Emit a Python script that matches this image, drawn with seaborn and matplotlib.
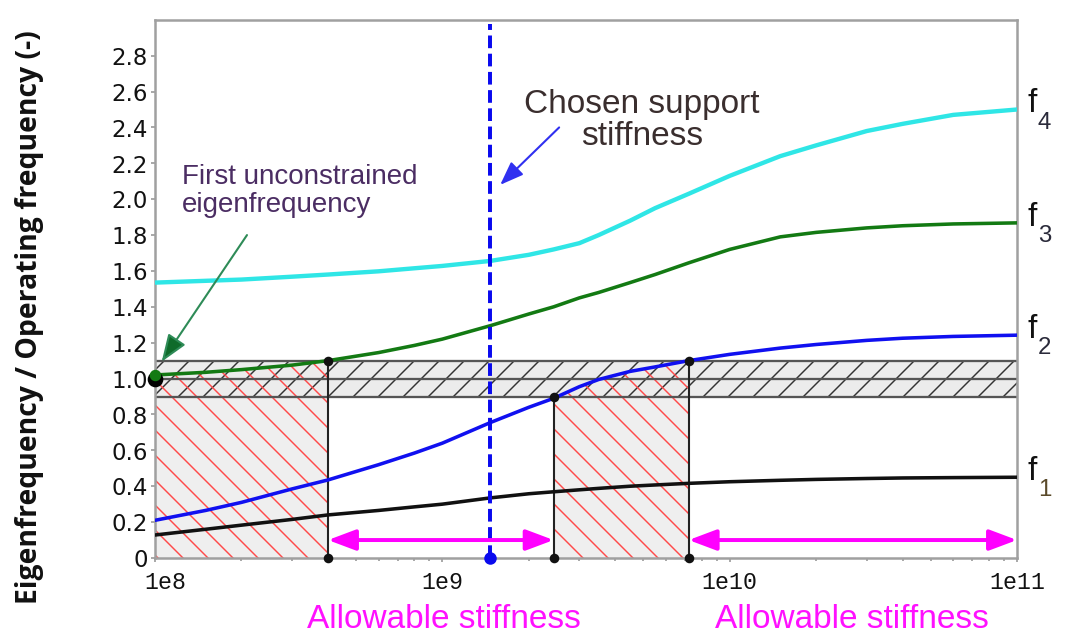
import numpy as np
import pandas as pd
import matplotlib
matplotlib.use("Agg")
import matplotlib.pyplot as plt
import matplotlib.transforms as mtransforms
from matplotlib.ticker import LogLocator, NullFormatter, FixedLocator
from matplotlib.patches import ArrowStyle
import seaborn as sns

# ---------------- data ----------------
stiffness = [1e8, 1.5e8, 2e8, 3e8, 4e8, 6e8, 8e8, 1e9, 1.47e9, 2e9, 2.44e9,
             3e9, 3.5e9, 4.5e9, 5.5e9, 7.2e9, 1e10, 1.5e10, 2e10, 3e10, 4e10,
             6e10, 1e11]
f1 = [0.128, 0.16, 0.183, 0.215, 0.24, 0.265, 0.285, 0.30, 0.335, 0.358, 0.369,
      0.38, 0.388, 0.40, 0.407, 0.416, 0.425, 0.433, 0.438, 0.443, 0.446,
      0.448, 0.45]
f2 = [0.21, 0.265, 0.31, 0.385, 0.435, 0.52, 0.585, 0.64, 0.755, 0.84, 0.89,
      0.955, 0.995, 1.04, 1.065, 1.10, 1.135, 1.17, 1.19, 1.213, 1.225,
      1.235, 1.242]
f3 = [1.02, 1.035, 1.05, 1.075, 1.10, 1.145, 1.185, 1.22, 1.295, 1.36, 1.40,
      1.45, 1.48, 1.535, 1.58, 1.645, 1.72, 1.79, 1.815, 1.84, 1.852,
      1.862, 1.868]
f4 = [1.535, 1.545, 1.552, 1.568, 1.58, 1.598, 1.615, 1.628, 1.656, 1.69, 1.72,
      1.755, 1.80, 1.88, 1.95, 2.03, 2.13, 2.24, 2.30, 2.38, 2.42,
      2.47, 2.50]
mode_names = ["f1", "f2", "f3", "f4"]
mode_labels = ["f", "f", "f", "f"]
mode_subscripts = ["1", "2", "3", "4"]

band_low, band_mid, band_high = 0.9, 1.0, 1.1
chosen_stiffness = 1.47e9
limit_stiffness = [4e8, 2.44e9, 7.2e9]
limit_tops = [1.1, 0.9, 1.1]
unconstrained_point = (1e8, 1.0)
arrow_level = 0.1

xticks = [1e8, 1e9, 1e10, 1e11]
xtick_labels = ["1e8", "1e9", "1e10", "1e11"]
yticks = [0, 0.2, 0.4, 0.6, 0.8, 1.0, 1.2, 1.4, 1.6, 1.8, 2.0, 2.2, 2.4, 2.6, 2.8]
ytick_labels = ["0", "0.2", "0.4", "0.6", "0.8", "1.0", "1.2", "1.4", "1.6",
                "1.8", "2.0", "2.2", "2.4", "2.6", "2.8"]

ylabel = "Eigenfrequency / Operating frequency (-)"
chosen_text = "Chosen support\nstiffness"
first_text = "First unconstrained\neigenfrequency"
allow_text = "Allowable stiffness"

# annotation arrows (tail, head) in data coordinates
green_arrow = ((2.09e8, 1.80), (1.055e8, 1.094))
blue_arrow = ((2.55e9, 2.40), (1.59e9, 2.08))

# ---------------- style ----------------
sns.set_theme(style="white")
plt.rcParams["font.family"] = ["Liberation Sans", "DejaVu Sans"]
plt.rcParams["hatch.linewidth"] = 0.7

DPI = 150
fig = plt.figure(figsize=(1065 / DPI, 635.2 / DPI), dpi=DPI)
ax = fig.add_axes([155 / 1065, 1 - 558 / 635, (1017 - 155) / 1065, (558 - 20) / 635])
ax.set_xscale("log")

x = np.array(stiffness)
df = pd.DataFrame({"stiffness": stiffness, "f1": f1, "f2": f2, "f3": f3, "f4": f4})

colors = {"f1": "#111111", "f2": "#1010f0", "f3": "#137a13", "f4": "#2fe6e6"}
widths = {"f1": 1.7, "f2": 1.7, "f3": 1.7, "f4": 2.1}

# forbidden (red hatched) regions
m1 = (x >= stiffness[0]) & (x <= limit_stiffness[0])
m2 = (x >= limit_stiffness[1]) & (x <= limit_stiffness[2])
top1 = np.array(f3)[m1]
top2 = np.minimum(np.array(f2)[m2], band_high)
ax.fill_between(x[m1], 0, top1, facecolor="#efefef", lw=0, zorder=1)
ax.fill_between(x[m2], 0, top2, facecolor="#efefef", lw=0, zorder=1)

# operating band
ax.axhspan(band_low, band_high, facecolor="#ececec", edgecolor="#333333",
           hatch="//", lw=0, zorder=1.5)

with plt.rc_context({"hatch.color": "#ff4a4a"}):
    ax.fill_between(x[m1], 0, top1, facecolor="none", edgecolor="#ff4a4a",
                    hatch="\\\\", lw=0, zorder=2)
    ax.fill_between(x[m2], 0, top2, facecolor="none", edgecolor="#ff4a4a",
                    hatch="\\\\", lw=0, zorder=2)

for lvl in (band_low, band_mid, band_high):
    ax.axhline(lvl, color="#555555", lw=1.1, zorder=2.5)

# limit vertical lines
ax.vlines(limit_stiffness, 0, limit_tops, color="#222222", lw=1.0, zorder=3)
ax.plot(limit_stiffness, limit_tops, "o", color="#111111", ms=3.6, zorder=6)
ax.plot(limit_stiffness, [0] * len(limit_stiffness), "o", color="#111111",
        ms=3.6, zorder=6, clip_on=False)

# curves
for name in mode_names:
    sns.lineplot(data=df, x="stiffness", y=name, color=colors[name],
                 lw=widths[name], ax=ax, legend=False, zorder=4)

# chosen stiffness
ax.axvline(chosen_stiffness, ymin=0, ymax=0.993, color="#0a0aee", lw=1.9,
           dashes=(3.2, 1.4), zorder=5)
ax.plot([chosen_stiffness], [0], "o", color="#0a0aee", ms=5, zorder=6,
        clip_on=False)

# unconstrained eigenfrequency dots
ax.plot([unconstrained_point[0]], [unconstrained_point[1]], "o", color="#000000",
        ms=6.5, zorder=7, clip_on=False)
ax.plot([stiffness[0]], [f3[0]], "o", color="#137a13", ms=4.5, zorder=7,
        clip_on=False)

# magenta allowable arrows
mag_style = ArrowStyle("<|-|>", head_length=0.8, head_width=0.3)
ax.annotate("", xy=(limit_stiffness[1], arrow_level),
            xytext=(limit_stiffness[0], arrow_level),
            arrowprops=dict(arrowstyle=mag_style, color="#ff00ff", lw=1.9,
                            mutation_scale=14, shrinkA=0, shrinkB=0),
            zorder=6)
ax.annotate("", xy=(stiffness[-1], arrow_level),
            xytext=(limit_stiffness[2], arrow_level),
            arrowprops=dict(arrowstyle=mag_style, color="#ff00ff", lw=1.9,
                            mutation_scale=14, shrinkA=0, shrinkB=0),
            zorder=6, annotation_clip=False)

# annotation arrows
ax.annotate("", xy=green_arrow[1], xytext=green_arrow[0],
            arrowprops=dict(arrowstyle=ArrowStyle("-|>", head_length=0.8, head_width=0.3),
                            color="#2e8b57", lw=1.0, mutation_scale=14,
                            shrinkA=0, shrinkB=0, fc="#0f6b2a"),
            zorder=8, annotation_clip=False)
ax.annotate("", xy=blue_arrow[1], xytext=blue_arrow[0],
            arrowprops=dict(arrowstyle=ArrowStyle("-|>", head_length=0.8, head_width=0.3),
                            color="#3030f0", lw=1.0, mutation_scale=12,
                            shrinkA=0, shrinkB=0),
            zorder=8)

# axes limits / ticks
ax.set_xlim(stiffness[0], stiffness[-1])
ax.set_ylim(0, 3.0)
ax.xaxis.set_major_locator(FixedLocator(xticks))
ax.set_xticklabels(xtick_labels, fontfamily="Liberation Mono", fontsize=11.2,
                   color="#111111")
ax.xaxis.set_minor_locator(LogLocator(base=10, subs=np.arange(2, 10)))
ax.xaxis.set_minor_formatter(NullFormatter())
ax.set_yticks(yticks)
ax.set_yticklabels(ytick_labels, fontfamily="DejaVu Sans", fontsize=11,
                   color="#111111")
ax.tick_params(axis="y", which="major", length=2, width=0.8, color="#999999",
               pad=1.5, left=True)
ax.tick_params(axis="x", which="major", length=2, width=0.8, color="#999999",
               pad=4, bottom=True)
ax.tick_params(axis="x", which="minor", length=1.5, width=0.8, color="#999999",
               bottom=True)
ax.set_xlabel("")
ax.set_ylabel("")
for sp in ax.spines.values():
    sp.set_color("#a0a0a0")
    sp.set_linewidth(1.2)
ax.set_facecolor("white")

# shift first x tick label slightly right, as in the reference
first_lab = ax.get_xticklabels()[0]
first_lab.set_transform(first_lab.get_transform() +
                        mtransforms.ScaledTranslation(10 / DPI, 0, fig.dpi_scale_trans))

# curve labels on the right
for name, lab, sub in zip(mode_names, mode_labels, mode_subscripts):
    yend = df[name].iloc[-1]
    ax.annotate(lab, xy=(stiffness[-1], yend), xytext=(10, 6),
                textcoords="offset pixels", ha="left", va="center",
                fontsize=16, color="#111111", annotation_clip=False)
    ax.annotate(sub, xy=(stiffness[-1], yend), xytext=(21, -13),
                textcoords="offset pixels", ha="left", va="center",
                fontsize=11.5, color="#5a4a2a" if sub == "1" else "#2a2a3a",
                annotation_clip=False)

# texts
fig.text(30 / 1065, 0.50, ylabel, rotation=90, ha="center", va="center",
         fontsize=13.6, fontweight="bold", family=["Open Sans", "DejaVu Sans"],
         color="#111111")
fig.text(642 / 1065, 1 - 89 / 635, chosen_text, ha="center", va="top",
         multialignment="center", fontsize=16, color="#3a2e2e", linespacing=1.02)
fig.text(182 / 1065, 1 - 164 / 635, first_text, ha="left", va="top",
         fontsize=13.3, color="#4b2d63", linespacing=1.08)
fig.text(444 / 1065, 1 - 628 / 635, allow_text, ha="center", va="baseline",
         fontsize=16, color="#ff10ff")
fig.text(852 / 1065, 1 - 628 / 635, allow_text, ha="center", va="baseline",
         fontsize=16, color="#ff10ff")

fig.savefig("out.png", dpi=DPI, facecolor="white")
